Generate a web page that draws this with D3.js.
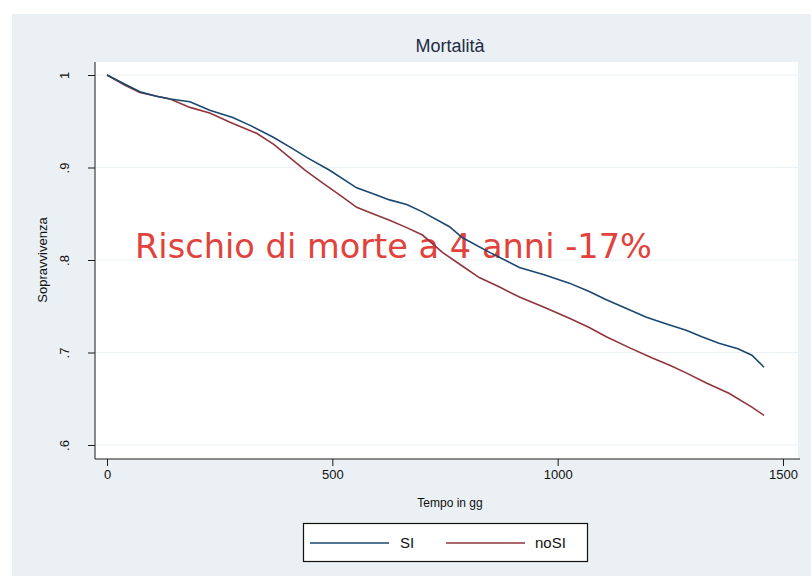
<!DOCTYPE html>
<html>
<head>
<meta charset="utf-8">
<script src="https://cdn.jsdelivr.net/npm/d3@7"></script>
<style>
  html, body { margin: 0; padding: 0; background: #ffffff; }
  svg { display: block; }
</style>
</head>
<body>
<svg id="chart" width="811" height="578"></svg>
<script>
// ---- data ----
const title = "Mortalità";
const xTitle = "Tempo in gg";
const yTitle = "Sopravvivenza";
const annotation = "Rischio di morte a 4 anni -17%";
const seriesNames = ["SI", "noSI"];
const xTicks = [0, 500, 1000, 1500];
const yTicks = [0.6, 0.7, 0.8, 0.9, 1];
const yTickLabels = [".6", ".7", ".8", ".9", "1"];

const siDays = [0, 40, 73, 110, 140, 184, 228, 279, 320, 368, 410, 443, 494, 554, 589, 627, 665, 700, 760, 789, 850, 915, 970, 1026, 1070, 1108, 1150, 1197, 1240, 1285, 1320, 1358, 1400, 1431, 1458];
const siSurv = [1.0, 0.990, 0.982, 0.977, 0.974, 0.971, 0.962, 0.954, 0.945, 0.933, 0.921, 0.911, 0.897, 0.878, 0.872, 0.865, 0.860, 0.852, 0.836, 0.824, 0.808, 0.792, 0.784, 0.775, 0.766, 0.757, 0.748, 0.738, 0.731, 0.724, 0.717, 0.710, 0.704, 0.697, 0.684];

const noSiDays = [0, 40, 73, 110, 140, 184, 228, 273, 332, 370, 405, 440, 479, 520, 554, 590, 627, 665, 700, 745, 790, 826, 870, 915, 970, 1026, 1070, 1108, 1160, 1210, 1250, 1285, 1330, 1380, 1431, 1458];
const noSiSurv = [1.0, 0.989, 0.981, 0.977, 0.974, 0.965, 0.959, 0.949, 0.937, 0.925, 0.911, 0.897, 0.883, 0.869, 0.857, 0.850, 0.843, 0.835, 0.827, 0.808, 0.793, 0.781, 0.771, 0.760, 0.749, 0.737, 0.727, 0.717, 0.705, 0.694, 0.686, 0.678, 0.667, 0.656, 0.641, 0.632];

const colors = ["#1a476f", "#90353b"];

// ---- drawing ----
const svg = d3.select("#chart");
const W = 811, H = 578;

// outer graph region
svg.append("rect").attr("x", 12).attr("y", 14).attr("width", W - 12).attr("height", 562)
  .attr("fill", "#eaf0f3");

const plot = { left: 95, right: 798, top: 62, bottom: 459 };
svg.append("rect").attr("x", plot.left).attr("y", plot.top)
  .attr("width", plot.right - plot.left).attr("height", plot.bottom - plot.top)
  .attr("fill", "#ffffff");

const x = d3.scaleLinear().domain([0, 1500]).range([107, 783]);
const y = d3.scaleLinear().domain([0.6, 1]).range([445, 75]);

// gridlines
svg.append("g").selectAll("line").data(yTicks).join("line")
  .attr("x1", plot.left + 1).attr("x2", plot.right)
  .attr("y1", d => y(d)).attr("y2", d => y(d))
  .attr("stroke", "#eaf0f3").attr("stroke-width", 1);

// y axis
const yAxis = d3.axisLeft(y).tickValues(yTicks)
  .tickFormat((d, i) => yTickLabels[i]).tickSize(7).tickPadding(0);
const gy = svg.append("g").attr("transform", `translate(${plot.left},0)`).call(yAxis);
gy.select(".domain").remove();
gy.selectAll(".tick line").attr("stroke", "#1a1a1a");
gy.selectAll(".tick text")
  .attr("transform", "translate(-31,0) rotate(-90)")
  .attr("x", 0).attr("y", 0).attr("dy", "0.35em")
  .attr("text-anchor", "middle")
  .attr("font-family", "Liberation Sans, Arial, sans-serif")
  .attr("font-size", 13).attr("fill", "#111");
svg.append("line").attr("x1", plot.left).attr("x2", plot.left)
  .attr("y1", plot.top).attr("y2", plot.bottom)
  .attr("stroke", "#1a1a1a").attr("stroke-width", 1);

// x axis
const xAxis = d3.axisBottom(x).tickValues(xTicks).tickFormat(d3.format("d")).tickSize(7).tickPadding(4);
const gx = svg.append("g").attr("transform", `translate(0,${plot.bottom})`).call(xAxis);
gx.select(".domain").remove();
gx.selectAll(".tick line").attr("stroke", "#1a1a1a");
gx.selectAll(".tick text")
  .attr("font-family", "Liberation Sans, Arial, sans-serif")
  .attr("font-size", 13).attr("fill", "#111");
svg.append("line").attr("x1", plot.left).attr("x2", 800)
  .attr("y1", plot.bottom).attr("y2", plot.bottom)
  .attr("stroke", "#1a1a1a").attr("stroke-width", 1);

// annotation (behind the curves, as in the reference)
svg.append("text").attr("x", 135).attr("y", 258)
  .attr("font-family", "DejaVu Sans, Verdana, sans-serif").attr("font-size", 33)
  .attr("textLength", 517).attr("lengthAdjust", "spacingAndGlyphs")
  .attr("fill", "#e2423c").text(annotation);

// curves
const line = d3.line().x(d => x(d[0])).y(d => y(d[1]));
const siData = siDays.map((d, i) => [d, siSurv[i]]);
const noSiData = noSiDays.map((d, i) => [d, noSiSurv[i]]);
svg.append("path").datum(noSiData).attr("d", line)
  .attr("fill", "none").attr("stroke", colors[1]).attr("stroke-width", 1.6);
svg.append("path").datum(siData).attr("d", line)
  .attr("fill", "none").attr("stroke", colors[0]).attr("stroke-width", 1.6);

// title
svg.append("text").attr("x", 450).attr("y", 52).attr("text-anchor", "middle")
  .attr("font-family", "Liberation Sans, Arial, sans-serif").attr("font-size", 18)
  .attr("fill", "#1f2c45").text(title);

// axis titles
svg.append("text").attr("transform", "translate(47,260) rotate(-90)")
  .attr("text-anchor", "middle")
  .attr("font-family", "Liberation Sans, Arial, sans-serif").attr("font-size", 13)
  .attr("fill", "#111").text(yTitle);
svg.append("text").attr("x", 450).attr("y", 507).attr("text-anchor", "middle")
  .attr("font-family", "Liberation Sans, Arial, sans-serif").attr("font-size", 12)
  .attr("fill", "#111").text(xTitle);

// legend
const lg = svg.append("g");
lg.append("rect").attr("x", 303.5).attr("y", 523.5).attr("width", 284).attr("height", 38)
  .attr("fill", "#ffffff").attr("stroke", "#111").attr("stroke-width", 1.2);
const legendItems = [
  { name: seriesNames[0], color: colors[0], x1: 310, x2: 389, tx: 400 },
  { name: seriesNames[1], color: colors[1], x1: 446, x2: 525, tx: 535 }
];
legendItems.forEach(it => {
  lg.append("line").attr("x1", it.x1).attr("x2", it.x2).attr("y1", 543).attr("y2", 543)
    .attr("stroke", it.color).attr("stroke-width", 1.6);
  lg.append("text").attr("x", it.tx).attr("y", 543).attr("dy", "0.35em")
    .attr("font-family", "Liberation Sans, Arial, sans-serif").attr("font-size", 15)
    .attr("fill", "#111").text(it.name);
});
</script>
</body>
</html>
